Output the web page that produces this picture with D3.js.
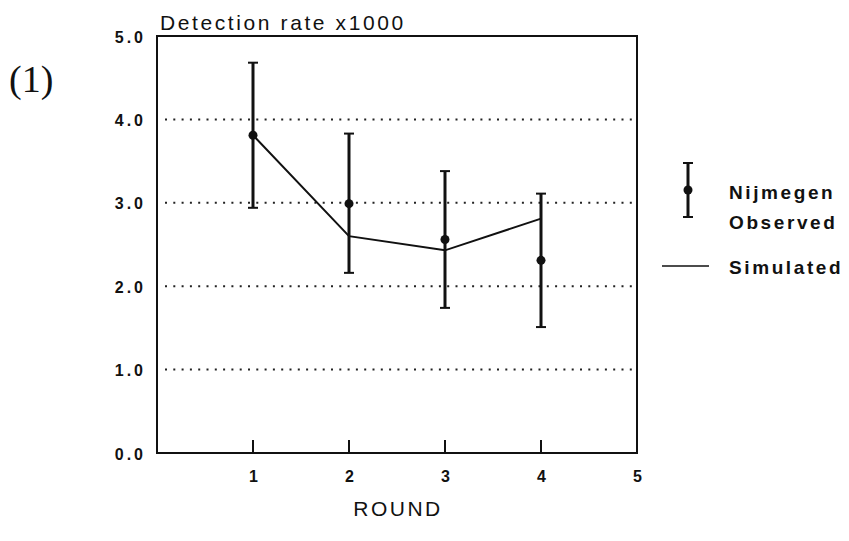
<!DOCTYPE html>
<html>
<head>
<meta charset="utf-8">
<script src="https://cdn.jsdelivr.net/npm/d3@7"></script>
<style>
  body { margin: 0; background: #fff; }
  text { font-family: "Liberation Sans", Arial, sans-serif; fill: #111; }
</style>
</head>
<body>
<div id="chart"></div>
<script>
// values
var rounds = [1, 2, 3, 4];
var observed = [3.81, 2.99, 2.56, 2.31];
var errLow = [2.94, 2.16, 1.74, 1.51];
var errHigh = [4.68, 3.83, 3.38, 3.11];
var simulated = [3.81, 2.60, 2.43, 2.81];
var xTicks = [1, 2, 3, 4, 5];
var yTicks = [0, 1, 2, 3, 4, 5];
var gridLines = [1, 2, 3, 4];

var width = 849, height = 541;

var svg = d3.select("#chart")
  .append("svg")
    .attr("width", width)
    .attr("height", height);

var xScale = d3.scaleLinear().domain([0, 5]).range([157, 637]);
var yScale = d3.scaleLinear().domain([0, 5]).range([453, 36]);

// panel number
svg.append("text")
  .attr("x", 9).attr("y", 92)
  .style("font-family", "'Liberation Serif', 'Times New Roman', serif")
  .style("font-size", "38px")
  .text("(1)");

// dotted grid lines
svg.selectAll(".grid")
  .data(gridLines)
  .enter().append("line")
    .attr("x1", xScale(0) + 8)
    .attr("x2", xScale(5) - 2)
    .attr("y1", function(d) { return yScale(d); })
    .attr("y2", function(d) { return yScale(d); })
    .attr("stroke", "#222")
    .attr("stroke-width", 2)
    .attr("stroke-dasharray", "2,6.3");

// frame
svg.append("rect")
  .attr("x", xScale(0)).attr("y", yScale(5))
  .attr("width", xScale(5) - xScale(0))
  .attr("height", yScale(0) - yScale(5))
  .attr("fill", "none")
  .attr("stroke", "#111")
  .attr("stroke-width", 2);

// x ticks, drawn inside
var xAxis = svg.append("g")
  .attr("transform", "translate(0," + yScale(0) + ")")
  .call(d3.axisBottom(xScale).tickValues(xTicks).tickSize(0).tickPadding(18).tickFormat(d3.format("d")));
xAxis.select(".domain").remove();
xAxis.selectAll("text")
  .style("font-family", "'Liberation Sans', Arial, sans-serif")
  .style("font-size", "16px")
  .style("font-weight", "bold")
  .attr("fill", "#111");

svg.selectAll(".xtick")
  .data(rounds)
  .enter().append("line")
    .attr("x1", function(d) { return xScale(d); })
    .attr("x2", function(d) { return xScale(d); })
    .attr("y1", yScale(0))
    .attr("y2", yScale(0) - 13)
    .attr("stroke", "#111")
    .attr("stroke-width", 2);

// y axis labels
var yAxis = svg.append("g")
  .attr("transform", "translate(" + xScale(0) + ",0)")
  .call(d3.axisLeft(yScale).tickValues(yTicks).tickSize(0).tickPadding(11).tickFormat(d3.format(".1f")));
yAxis.select(".domain").remove();
yAxis.selectAll("text")
  .style("font-family", "'Liberation Sans', Arial, sans-serif")
  .style("font-size", "16px")
  .style("font-weight", "bold")
  .style("letter-spacing", "3px")
  .attr("fill", "#111")
  .attr("dy", "0.38em");

// titles
svg.append("text")
  .attr("x", 160).attr("y", 30)
  .style("font-size", "21px")
  .style("letter-spacing", "2.6px")
  .text("Detection rate x1000");

svg.append("text")
  .attr("x", (xScale(0) + xScale(5)) / 2 + 1).attr("y", 516)
  .attr("text-anchor", "middle")
  .style("font-size", "21px")
  .style("letter-spacing", "2.5px")
  .text("ROUND");

// simulated line
svg.append("path")
  .datum(rounds)
  .attr("fill", "none")
  .attr("stroke", "#111")
  .attr("stroke-width", 2)
  .attr("d", d3.line()
    .x(function(d) { return xScale(d); })
    .y(function(d, i) { return yScale(simulated[i]); }));

// error bars
var bars = svg.selectAll(".err")
  .data(rounds)
  .enter().append("g");

bars.append("line")
  .attr("x1", function(d) { return xScale(d); })
  .attr("x2", function(d) { return xScale(d); })
  .attr("y1", function(d, i) { return yScale(errLow[i]); })
  .attr("y2", function(d, i) { return yScale(errHigh[i]); })
  .attr("stroke", "#111")
  .attr("stroke-width", 3);

bars.append("line")
  .attr("x1", function(d) { return xScale(d) - 5; })
  .attr("x2", function(d) { return xScale(d) + 5; })
  .attr("y1", function(d, i) { return yScale(errHigh[i]); })
  .attr("y2", function(d, i) { return yScale(errHigh[i]); })
  .attr("stroke", "#111")
  .attr("stroke-width", 2);

bars.append("line")
  .attr("x1", function(d) { return xScale(d) - 5; })
  .attr("x2", function(d) { return xScale(d) + 5; })
  .attr("y1", function(d, i) { return yScale(errLow[i]); })
  .attr("y2", function(d, i) { return yScale(errLow[i]); })
  .attr("stroke", "#111")
  .attr("stroke-width", 2);

bars.append("circle")
  .attr("cx", function(d) { return xScale(d); })
  .attr("cy", function(d, i) { return yScale(observed[i]); })
  .attr("r", 4.5)
  .attr("fill", "#111");

// legend
var legend = svg.append("g");
legend.append("line")
  .attr("x1", 688).attr("x2", 688).attr("y1", 163).attr("y2", 217)
  .attr("stroke", "#111").attr("stroke-width", 3);
legend.append("line")
  .attr("x1", 683).attr("x2", 693).attr("y1", 163).attr("y2", 163)
  .attr("stroke", "#111").attr("stroke-width", 2);
legend.append("line")
  .attr("x1", 683).attr("x2", 693).attr("y1", 217).attr("y2", 217)
  .attr("stroke", "#111").attr("stroke-width", 2);
legend.append("circle")
  .attr("cx", 688).attr("cy", 190).attr("r", 4.5).attr("fill", "#111");

var legendText = [
  {label: "Nijmegen", y: 199},
  {label: "Observed", y: 229},
  {label: "Simulated", y: 274}
];
legend.selectAll(".lt")
  .data(legendText)
  .enter().append("text")
    .attr("x", 729)
    .attr("y", function(d) { return d.y; })
    .style("font-size", "19px")
    .style("font-weight", "bold")
    .style("letter-spacing", "2.6px")
    .text(function(d) { return d.label; });

legend.append("line")
  .attr("x1", 662).attr("x2", 709).attr("y1", 266).attr("y2", 266)
  .attr("stroke", "#111").attr("stroke-width", 1.5);
</script>
</body>
</html>
